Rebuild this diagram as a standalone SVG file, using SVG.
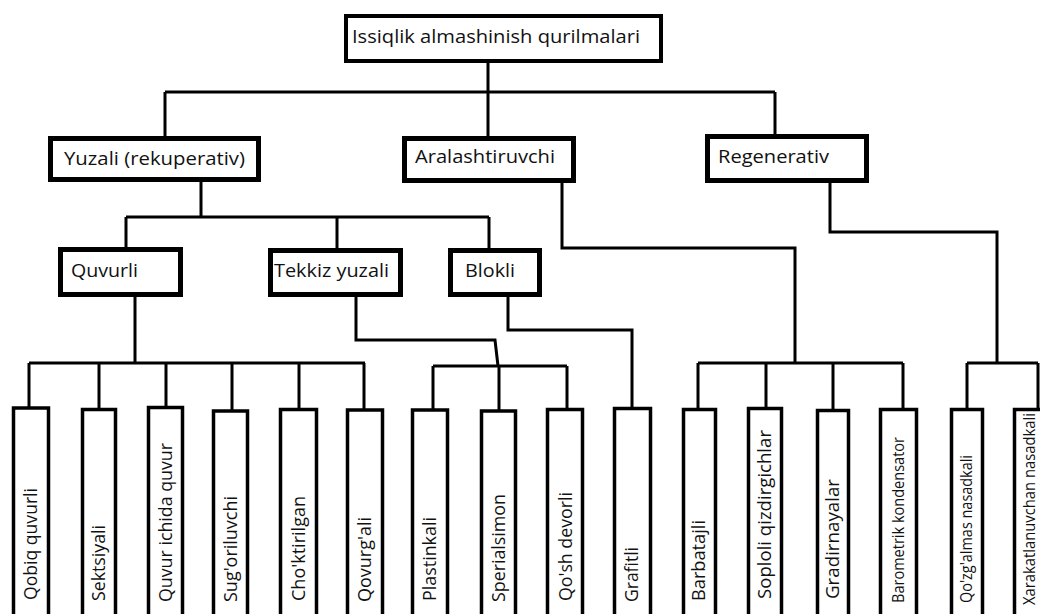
<svg xmlns="http://www.w3.org/2000/svg" width="1040" height="614" viewBox="0 0 1040 614">
<style>
.box{fill:#fff;stroke:#000;stroke-width:5}
.top{fill:#fff;stroke:#000;stroke-width:4}
.leaf{fill:#fff;stroke:#000;stroke-width:3.5}
.lbl{font-family:"Open Sans","Noto Sans","Liberation Sans",sans-serif;font-size:18px;fill:#111}
.v{font-family:"Open Sans","Noto Sans","Liberation Sans",sans-serif;font-size:18px;fill:#111}
.vc{font-family:"Open Sans","Noto Sans","Liberation Sans",sans-serif;font-size:16px;fill:#111}
.c{fill:none;stroke:#000;stroke-width:3;stroke-linejoin:miter}
</style>
<rect width="1040" height="614" fill="#fff"/>
<g id="connectors">
<path class="c" d="M488 62V137M165 92H775M165 92V137M775 92V134"/>
<path class="c" d="M201 182V217M126 217H489M126 217V248M337 217V249M489 217V248"/>
<path class="c" d="M562 183V248H795V363M698 363H903M698 363V408M766 363V408M833 363V409M903 363V408"/>
<path class="c" d="M830 183V232H997V363M967 363H1038M967 363V408M1038 363V408"/>
<path class="c" d="M135 297V363M29 363H365M29 363V407M99 363V409M166 363V406M232 363V410M299 363V408M364 363V409"/>
<path class="c" d="M356 297V340H495L498 366M433 366H567M433 366V409M499 366V410M567 366V408"/>
<path class="c" d="M508 297V330H632V407"/>
</g>
<g id="n-root"><rect class="top" x="346" y="16" width="315" height="45"/><text class="lbl" x="352" y="43" textLength="288" lengthAdjust="spacingAndGlyphs">Issiqlik almashinish qurilmalari</text></g>
<g id="n-yuzali"><rect class="box" x="50.5" y="138.5" width="208" height="41"/><text class="lbl" x="64" y="165" textLength="181" lengthAdjust="spacingAndGlyphs">Yuzali (rekuperativ)</text></g>
<g id="n-aral"><rect class="box" x="404.5" y="138.5" width="169" height="42"/><text class="lbl" x="415" y="163" textLength="140" lengthAdjust="spacingAndGlyphs">Aralashtiruvchi</text></g>
<g id="n-regen"><rect class="box" x="707.5" y="136.5" width="159" height="44"/><text class="lbl" x="718" y="163" textLength="111" lengthAdjust="spacingAndGlyphs">Regenerativ</text></g>
<g id="n-quvurli"><rect class="box" x="60.5" y="249.5" width="120" height="45"/><text class="lbl" x="71" y="277" textLength="67" lengthAdjust="spacingAndGlyphs">Quvurli</text></g>
<g id="n-tekkiz"><rect class="box" x="270.5" y="250.5" width="130" height="44"/><text class="lbl" x="274" y="277" textLength="115" lengthAdjust="spacingAndGlyphs">Tekkiz yuzali</text></g>
<g id="n-blokli"><rect class="box" x="450.5" y="250.5" width="89" height="44"/><text class="lbl" x="465" y="277" textLength="50" lengthAdjust="spacingAndGlyphs">Blokli</text></g>
<g id="l1"><rect class="leaf" x="13.5" y="408" width="35" height="220"/><text class="v" transform="translate(37 600) rotate(-90)" textLength="112" lengthAdjust="spacingAndGlyphs">Qobiq quvurli</text></g>
<g id="l2"><rect class="leaf" x="82.5" y="409.5" width="33" height="220"/><text class="v" transform="translate(105 601) rotate(-90)" textLength="76" lengthAdjust="spacingAndGlyphs">Sektsiyali</text></g>
<g id="l3"><rect class="leaf" x="148.5" y="407.5" width="34" height="220"/><text class="v" transform="translate(172 602) rotate(-90)" textLength="159" lengthAdjust="spacingAndGlyphs">Quvur ichida quvur</text></g>
<g id="l4"><rect class="leaf" x="213.5" y="411" width="34" height="220"/><text class="v" transform="translate(237 602) rotate(-90)" textLength="106" lengthAdjust="spacingAndGlyphs">Sug'oriluvchi</text></g>
<g id="l5"><rect class="leaf" x="280.5" y="409.5" width="36" height="220"/><text class="v" transform="translate(305 601) rotate(-90)" textLength="105" lengthAdjust="spacingAndGlyphs">Cho'ktirilgan</text></g>
<g id="l6"><rect class="leaf" x="347.5" y="410" width="35" height="220"/><text class="v" transform="translate(371 602) rotate(-90)" textLength="85" lengthAdjust="spacingAndGlyphs">Qovurg'ali</text></g>
<g id="l7"><rect class="leaf" x="412.5" y="410" width="35" height="220"/><text class="v" transform="translate(436 601) rotate(-90)" textLength="84" lengthAdjust="spacingAndGlyphs">Plastinkali</text></g>
<g id="l8"><rect class="leaf" x="481.5" y="411" width="34" height="220"/><text class="v" transform="translate(505 602) rotate(-90)" textLength="108" lengthAdjust="spacingAndGlyphs">Sperialsimon</text></g>
<g id="l9"><rect class="leaf" x="547.5" y="409.5" width="35" height="220"/><text class="v" transform="translate(572 601) rotate(-90)" textLength="109" lengthAdjust="spacingAndGlyphs">Qo'sh devorli</text></g>
<g id="l10"><rect class="leaf" x="614.5" y="408.5" width="36" height="220"/><text class="v" transform="translate(638 602) rotate(-90)" textLength="55" lengthAdjust="spacingAndGlyphs">Grafitli</text></g>
<g id="l11"><rect class="leaf" x="683.5" y="409.5" width="32" height="220"/><text class="v" transform="translate(705 601) rotate(-90)" textLength="81" lengthAdjust="spacingAndGlyphs">Barbatajli</text></g>
<g id="l12"><rect class="leaf" x="748.5" y="408.5" width="33" height="220"/><text class="v" transform="translate(771 599) rotate(-90)" textLength="169" lengthAdjust="spacingAndGlyphs">Soploli qizdirgichlar</text></g>
<g id="l13"><rect class="leaf" x="817.5" y="410.5" width="31" height="220"/><text class="v" transform="translate(839 599) rotate(-90)" textLength="120" lengthAdjust="spacingAndGlyphs">Gradirnayalar</text></g>
<g id="l14"><rect class="leaf" x="880.5" y="409.5" width="36" height="220"/><text class="vc" transform="translate(904 603) rotate(-90)" textLength="166" lengthAdjust="spacingAndGlyphs">Barometrik kondensator</text></g>
<g id="l15"><rect class="leaf" x="951.5" y="409.5" width="31" height="220"/><text class="vc" transform="translate(972 603) rotate(-90)" textLength="148" lengthAdjust="spacingAndGlyphs">Qo'zg'almas nasadkali</text></g>
<g id="l16"><rect class="leaf" x="1014.5" y="409.5" width="36" height="220"/><text class="vc" transform="translate(1035 605) rotate(-90)" textLength="192" lengthAdjust="spacingAndGlyphs">Xarakatlanuvchan nasadkali</text></g>
</svg>
